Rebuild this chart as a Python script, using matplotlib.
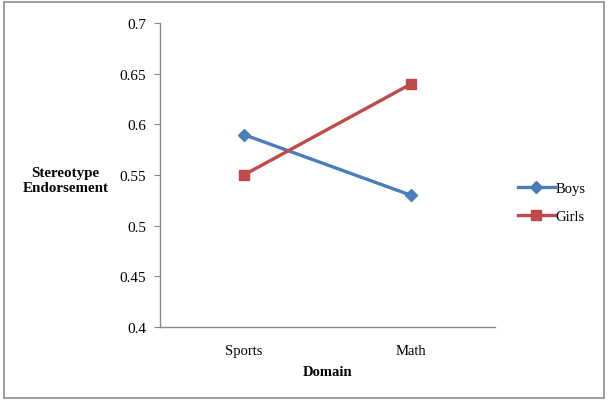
import matplotlib
matplotlib.use("Agg")
import matplotlib.pyplot as plt
from matplotlib.patches import Rectangle

categories = ["Sports", "Math"]
boys = [0.59, 0.53]
girls = [0.55, 0.64]
yticks = [0.4, 0.45, 0.5, 0.55, 0.6, 0.65, 0.7]
ytick_labels = ["0.4", "0.45", "0.5", "0.55", "0.6", "0.65", "0.7"]

plt.rcParams['font.family'] = ['Liberation Serif', 'DejaVu Serif']

fig = plt.figure(figsize=(6.08, 4.02), dpi=100)
fig.patches.append(Rectangle((0.006, 0.008), 0.988, 0.984, transform=fig.transFigure,
                             fill=False, edgecolor='#8c8c8c', linewidth=1.2))
ax = fig.add_axes([0.263, 0.184, 0.551, 0.756])

x = list(range(len(categories)))
ax.plot(x, boys, color='#4a7ebb', linewidth=2.4, marker='D', markersize=6.5, label='Boys')
ax.plot(x, girls, color='#be4b48', linewidth=2.4, marker='s', markersize=7.5, label='Girls')

ax.set_xlim(-0.5, 1.5)
ax.set_ylim(0.4, 0.7)
ax.set_yticks(yticks)
ax.set_yticklabels(ytick_labels, fontsize=11)
ax.set_xticks(x)
ax.set_xticklabels(categories, fontsize=10.5)
ax.tick_params(axis='x', length=0, pad=12)
ax.tick_params(axis='y', length=4, color='#888888', pad=6)

for s in ['top', 'right']:
    ax.spines[s].set_visible(False)
for s in ['left', 'bottom']:
    ax.spines[s].set_color('#888888')
    ax.spines[s].set_linewidth(1.0)

ax.set_xlabel('Domain', fontsize=10.5, fontweight='bold', labelpad=6)
fig.text(0.108, 0.55, 'Stereotype\nEndorsement', fontsize=10.8, fontweight='bold',
         ha='center', va='center', linespacing=1.2)

leg = ax.legend(loc='center left', bbox_to_anchor=(1.03, 0.41), frameon=False,
                fontsize=10.5, handlelength=2.5, handletextpad=0.05, labelspacing=1.05)

fig.savefig('out.png', dpi=100)
